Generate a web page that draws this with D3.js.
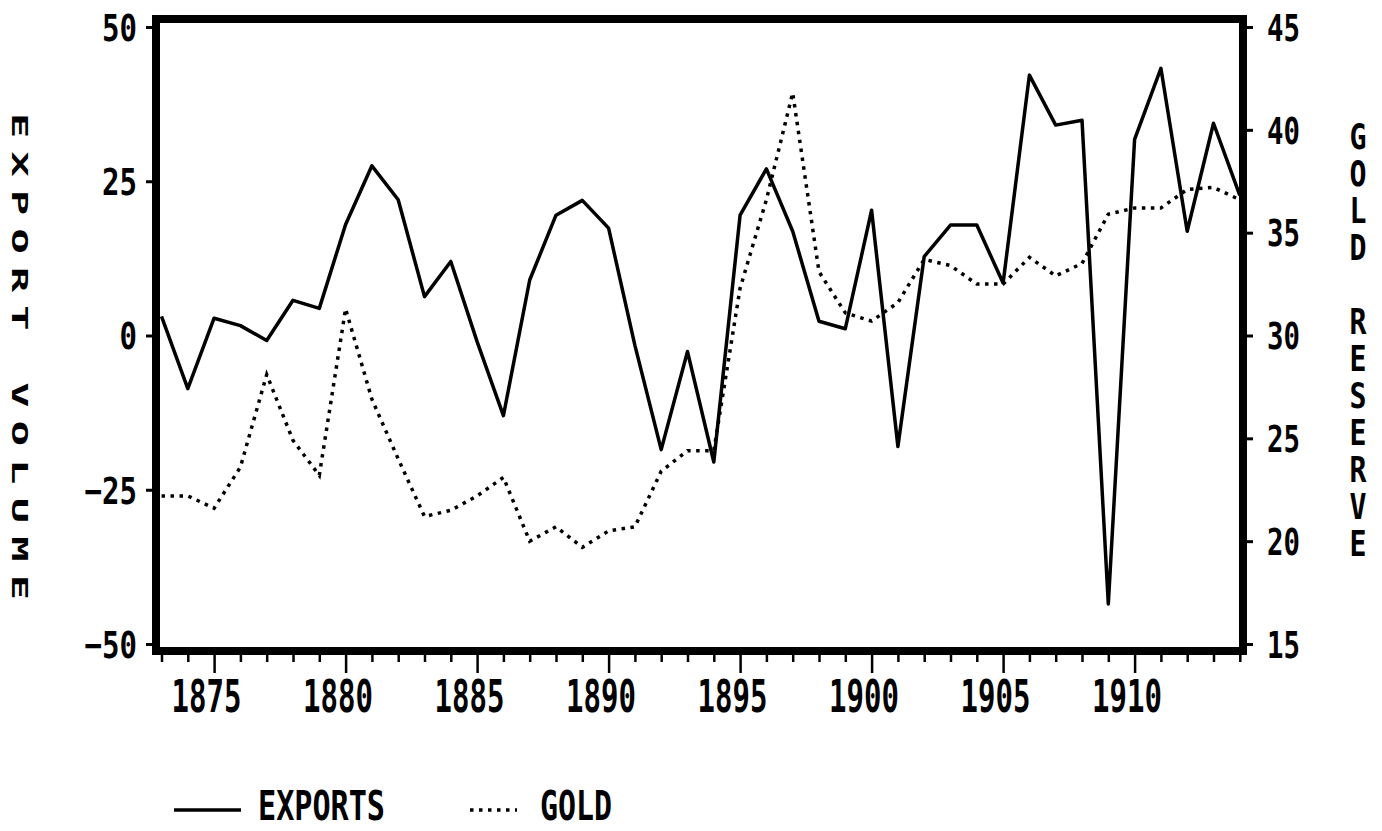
<!DOCTYPE html>
<html><head><meta charset="utf-8">
<script src="https://cdn.jsdelivr.net/npm/d3@7"></script>
<style>html,body{margin:0;padding:0;background:#fff;overflow:hidden}</style>
</head><body>
<svg id="chart" width="1382" height="831"></svg>
<script>
// ---- data ----
const years = [1873,1874,1875,1876,1877,1878,1879,1880,1881,1882,1883,1884,1885,1886,1887,1888,1889,1890,1891,1892,1893,1894,1895,1896,1897,1898,1899,1900,1901,1902,1903,1904,1905,1906,1907,1908,1909,1910,1911,1912,1913,1914];
const exportsVol = [3.1,-8.6,2.8,1.6,-0.8,5.7,4.4,18,27.5,22,6.3,12,-1,-13,9,19.5,21.9,17.4,-1.6,-18.5,-2.6,-20.5,19.5,27,16.9,2.3,1.1,20.3,-18,12.8,17.9,17.9,8.5,42.2,34.1,34.9,-43.5,31.8,43.3,16.9,34.4,22.7];
const goldReserve = [22.2,22.2,21.6,23.6,28.1,24.9,23.2,31.3,26.9,24,21.2,21.5,22.2,23.1,20.0,20.7,19.7,20.5,20.7,23.4,24.4,24.4,32.3,36.6,41.8,33.1,31.1,30.7,31.6,33.7,33.4,32.5,32.5,33.8,32.9,33.5,35.9,36.2,36.2,37.1,37.2,36.6];
const xTickLabels = [1875,1880,1885,1890,1895,1900,1905,1910];
const leftTicks = [-50,-25,0,25,50];
const rightTicks = [15,20,25,30,35,40,45];
const seriesNames = ["EXPORTS","GOLD"];
const leftTitle = "EXPORT VOLUME";
const rightTitle = "GOLD RESERVE";

// ---- drawing ----
const svg = d3.select("#chart");
const FONT = "DejaVu Sans Mono";
const x = d3.scaleLinear().domain([1873,1914]).range([161.5,1239.8]);
const yL = d3.scaleLinear().domain([-50,50]).range([644,27]);
const yR = d3.scaleLinear().domain([15,45]).range([644,27]);

// lines
const lineE = d3.line().x((d,i)=>x(years[i])).y(d=>yL(d));
const lineG = d3.line().x((d,i)=>x(years[i])).y(d=>yR(d));
svg.append("path").datum(goldReserve).attr("d",lineG)
  .attr("fill","none").attr("stroke","#000").attr("stroke-width",3.5)
  .attr("stroke-dasharray","3.5,5.5");
svg.append("path").datum(exportsVol).attr("d",lineE)
  .attr("fill","none").attr("stroke","#000").attr("stroke-width",3.5)
  .attr("stroke-linejoin","round");

// frame
svg.append("rect").attr("x",156).attr("y",19).attr("width",1087).attr("height",632)
  .attr("fill","none").attr("stroke","#000").attr("stroke-width",8);

function styleText(sel, size){
  sel.attr("font-family",FONT).attr("font-weight","bold").attr("font-size",size).attr("fill","#000");
}

// bottom axis
const gx = svg.append("g").attr("transform","translate(0,655)")
  .call(d3.axisBottom(x).tickValues(years).tickSize(7).tickSizeOuter(0)
    .tickFormat(d=> xTickLabels.includes(d) ? String(d) : ""));
gx.select(".domain").remove();
gx.selectAll(".tick line").attr("stroke","#000").attr("stroke-width",2.5)
  .attr("y2", d=> xTickLabels.includes(d) ? 18 : 7);
gx.selectAll(".tick text").attr("y",57).attr("dy",0).attr("dx",-8)
  .attr("textLength",d=> xTickLabels.includes(d) ? 70 : null)
  .attr("lengthAdjust","spacingAndGlyphs").call(styleText,45);

// left axis
const gl = svg.append("g").attr("transform","translate(152,0)")
  .call(d3.axisLeft(yL).tickValues(leftTicks).tickSize(6).tickSizeOuter(0));
gl.select(".domain").remove();
gl.selectAll(".tick line").attr("stroke","#000").attr("stroke-width",3);
gl.selectAll(".tick text").attr("x",-15).attr("dy","0.36em")
  .attr("textLength",d=> String(d).length*17.5)
  .attr("lengthAdjust","spacingAndGlyphs").call(styleText,37);

// right axis
const gr = svg.append("g").attr("transform","translate(1247,0)")
  .call(d3.axisRight(yR).tickValues(rightTicks).tickSize(6).tickSizeOuter(0));
gr.select(".domain").remove();
gr.selectAll(".tick line").attr("stroke","#000").attr("stroke-width",3);
gr.selectAll(".tick text").attr("x",20).attr("dy","0.36em")
  .attr("textLength",d=> String(d).length*16.5)
  .attr("lengthAdjust","spacingAndGlyphs").call(styleText,37);

// left title (rotated, reading downward)
svg.append("text")
  .attr("transform","translate(12,113) rotate(90) scale(2.0,1)")
  .attr("textLength",487/2.0).attr("lengthAdjust","spacing")
  .text(leftTitle).call(styleText,21);

// right title (stacked upright letters)
const rt = svg.append("text").attr("text-anchor","middle").call(styleText,36);
rightTitle.split("").forEach((c,i)=>{
  rt.append("tspan").attr("x",1358).attr("y",149+i*37).text(c===" " ? "\u00a0" : c)
    .attr("textLength", c===" " ? null : 17).attr("lengthAdjust","spacingAndGlyphs");
});

// legend
const lg = svg.append("g");
lg.append("line").attr("x1",174).attr("x2",241).attr("y1",810).attr("y2",810)
  .attr("stroke","#000").attr("stroke-width",3.5);
lg.append("text").attr("x",258).attr("y",820).attr("textLength",127)
  .attr("lengthAdjust","spacingAndGlyphs").text(seriesNames[0]).call(styleText,41);
lg.append("line").attr("x1",470).attr("x2",517).attr("y1",810).attr("y2",810)
  .attr("stroke","#000").attr("stroke-width",3.5).attr("stroke-dasharray","3.5,5.5");
lg.append("text").attr("x",540).attr("y",820).attr("textLength",72)
  .attr("lengthAdjust","spacingAndGlyphs").text(seriesNames[1]).call(styleText,41);
</script>
</body></html>
